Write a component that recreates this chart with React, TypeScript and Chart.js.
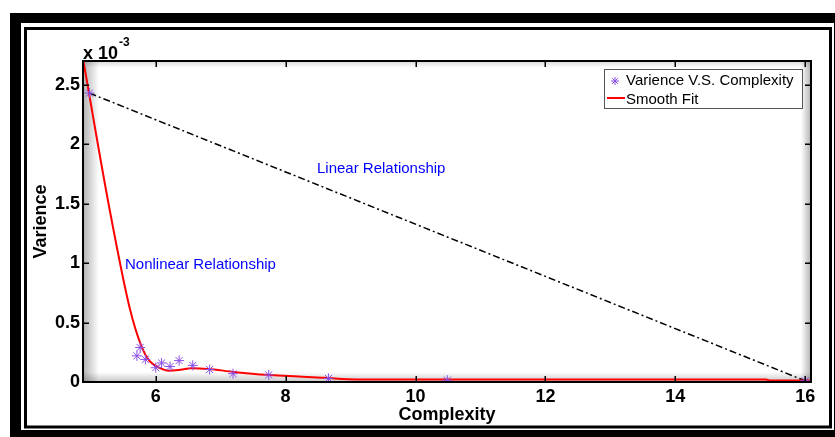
import React, { useEffect, useRef } from "react";
import { Chart, registerables } from "chart.js";

Chart.register(...registerables);

// ---- data ----
const xTicks = [6, 8, 10, 12, 14, 16];
const yTicks = [0, 0.5e-3, 1e-3, 1.5e-3, 2e-3, 2.5e-3];

const obsComplexity = [4.98, 5.71, 5.76, 5.84, 6.0, 6.09, 6.22, 6.36, 6.57, 6.83, 7.19, 7.74, 8.66, 10.49, 16.0];
const obsVarience = [2.43e-3, 0.22e-3, 0.29e-3, 0.19e-3, 0.12e-3, 0.16e-3, 0.13e-3, 0.18e-3, 0.14e-3, 0.105e-3, 0.07e-3, 0.06e-3, 0.03e-3, 0.015e-3, 0.01e-3];

const fitComplexity = [4.88, 5.28, 5.6, 5.78, 5.9, 6.05, 6.2, 6.35, 6.55, 6.8, 7.2, 7.7, 8.6, 9.1, 10, 12, 15.4, 15.45, 16.09];
const fitVarience = [2.72e-3, 1.48e-3, 0.62e-3, 0.3e-3, 0.18e-3, 0.12e-3, 0.095e-3, 0.1e-3, 0.115e-3, 0.11e-3, 0.085e-3, 0.06e-3, 0.035e-3, 0.022e-3, 0.02e-3, 0.02e-3, 0.02e-3, 0.013e-3, 0.013e-3];

const linearComplexity = [4.98, 16.0];
const linearVarience = [2.43e-3, 0.01e-3];

const seriesLabels = ["Varience V.S. Complexity", "Smooth Fit"];
const annotations = [
  { text: "Linear Relationship", x: 317, y: 169 },
  { text: "Nonlinear Relationship", x: 125, y: 265 },
];

const FONT = "'Liberation Sans', Arial, sans-serif";
const STAR_COLOR = "#8a4fe6";

const framePlugin = {
  id: "framePlugin",
  beforeDraw(chart: any) {
    const ctx = chart.ctx;
    const W = chart.width;
    const H = chart.height;
    ctx.save();
    ctx.fillStyle = "#ffffff";
    ctx.fillRect(0, 0, W, H);
    // outer thick frame
    ctx.fillStyle = "#000000";
    ctx.fillRect(10, 13, W, H);
    ctx.fillStyle = "#ffffff";
    ctx.fillRect(21, 23, 813, 407);
    // inner thin frame
    ctx.strokeStyle = "#000000";
    ctx.lineWidth = 3;
    ctx.strokeRect(25.5, 28.5, 805, 398.5);
    // shadow inside plot area
    const a = chart.chartArea;
    const g1 = ctx.createLinearGradient(a.left, 0, a.left + 16, 0);
    g1.addColorStop(0, "rgba(0,0,0,0.30)");
    g1.addColorStop(1, "rgba(0,0,0,0)");
    ctx.fillStyle = g1;
    ctx.fillRect(a.left, a.top, 16, a.bottom - a.top);
    const g2 = ctx.createLinearGradient(0, a.bottom, 0, a.bottom - 10);
    g2.addColorStop(0, "rgba(0,0,0,0.22)");
    g2.addColorStop(1, "rgba(0,0,0,0)");
    ctx.fillStyle = g2;
    ctx.fillRect(a.left, a.bottom - 10, a.right - a.left, 10);
    const g3 = ctx.createLinearGradient(a.right, 0, a.right - 10, 0);
    g3.addColorStop(0, "rgba(0,0,0,0.30)");
    g3.addColorStop(1, "rgba(0,0,0,0)");
    ctx.fillStyle = g3;
    ctx.fillRect(a.right - 10, a.top, 10, a.bottom - a.top);
    const g4 = ctx.createLinearGradient(0, a.top, 0, a.top + 7);
    g4.addColorStop(0, "rgba(0,0,0,0.15)");
    g4.addColorStop(1, "rgba(0,0,0,0)");
    ctx.fillStyle = g4;
    ctx.fillRect(a.left, a.top, a.right - a.left, 7);
    ctx.restore();
  },
  afterDatasetsDraw(chart: any) {
    const ctx = chart.ctx;
    const a = chart.chartArea;
    const xs = chart.scales.x;
    const ys = chart.scales.y;
    ctx.save();
    ctx.strokeStyle = "#000000";
    ctx.lineWidth = 2;
    ctx.strokeRect(a.left, a.top, a.right - a.left, a.bottom - a.top);
    ctx.lineWidth = 1.5;
    const tl = 6;
    ctx.beginPath();
    xs.ticks.forEach((t: any) => {
      const px = Math.round(xs.getPixelForValue(t.value)) + 0.25;
      ctx.moveTo(px, a.bottom);
      ctx.lineTo(px, a.bottom - tl);
      ctx.moveTo(px, a.top);
      ctx.lineTo(px, a.top + tl);
    });
    ys.ticks.forEach((t: any) => {
      const py = Math.round(ys.getPixelForValue(t.value)) + 0.25;
      ctx.moveTo(a.left, py);
      ctx.lineTo(a.left + tl, py);
      ctx.moveTo(a.right, py);
      ctx.lineTo(a.right - tl, py);
    });
    ctx.stroke();
    ctx.restore();
  },
  afterDraw(chart: any) {
    const ctx = chart.ctx;
    const a = chart.chartArea;
    ctx.save();
    // exponent label
    ctx.fillStyle = "#000000";
    ctx.textBaseline = "alphabetic";
    ctx.textAlign = "left";
    ctx.font = `bold 18px ${FONT}`;
    ctx.fillText("x 10", a.left, 59);
    const w = ctx.measureText("x 10").width;
    ctx.font = `bold 12px ${FONT}`;
    ctx.fillText("-3", a.left + w + 1, 46);
    // annotations
    ctx.fillStyle = "#0000ff";
    ctx.font = `15px ${FONT}`;
    ctx.textBaseline = "middle";
    annotations.forEach((an) => ctx.fillText(an.text, an.x, an.y));
    // legend
    const lx = 604.5, ly = 69.5, lw = 198, lh = 39;
    ctx.fillStyle = "#ffffff";
    ctx.fillRect(lx, ly, lw, lh);
    ctx.strokeStyle = "#555555";
    ctx.lineWidth = 1;
    ctx.strokeRect(lx, ly, lw, lh);
    const ds = chart.data.datasets;
    const sx = 615, sy = 81, r = 4;
    ctx.strokeStyle = ds[0].borderColor;
    ctx.lineWidth = 1;
    ctx.beginPath();
    for (let k = 0; k < 4; k++) {
      const ang = (k * Math.PI) / 4;
      ctx.moveTo(sx - r * Math.cos(ang), sy - r * Math.sin(ang));
      ctx.lineTo(sx + r * Math.cos(ang), sy + r * Math.sin(ang));
    }
    ctx.stroke();
    ctx.fillStyle = "#000000";
    ctx.font = `15px ${FONT}`;
    ctx.fillText(ds[0].label, 626, 81);
    ctx.strokeStyle = ds[1].borderColor;
    ctx.lineWidth = 2;
    ctx.beginPath();
    ctx.moveTo(607, 98);
    ctx.lineTo(625, 98);
    ctx.stroke();
    ctx.fillText(ds[1].label, 626, 100);
    ctx.restore();
  },
};

export default function App() {
  const ref = useRef<HTMLCanvasElement>(null);
  useEffect(() => {
    if (!ref.current) return;
    const chart = new Chart(ref.current, {
      type: "scatter",
      data: {
        datasets: [
          {
            label: seriesLabels[0],
            data: obsComplexity.map((x, i) => ({ x, y: obsVarience[i] })),
            showLine: false,
            pointStyle: "star",
            pointRadius: 5,
            borderColor: STAR_COLOR,
            backgroundColor: STAR_COLOR,
            borderWidth: 1,
          },
          {
            label: seriesLabels[1],
            data: fitComplexity.map((x, i) => ({ x, y: fitVarience[i] })),
            showLine: true,
            pointRadius: 0,
            borderColor: "#ff0000",
            borderWidth: 2,
            cubicInterpolationMode: "monotone",
          },
          {
            label: "Linear",
            data: linearComplexity.map((x, i) => ({ x, y: linearVarience[i] })),
            showLine: true,
            pointRadius: 0,
            borderColor: "#000000",
            borderWidth: 1.5,
            borderDash: [7, 3, 2, 3],
          },
        ] as any,
      },
      options: {
        animation: false,
        responsive: false,
        layout: { padding: { left: 0, top: 61, right: 24, bottom: 0 } },
        plugins: { legend: { display: false }, tooltip: { enabled: false } },
        scales: {
          x: {
            type: "linear",
            min: 4.88,
            max: 16.09,
            afterBuildTicks: (s: any) => {
              s.ticks = xTicks.map((v) => ({ value: v }));
            },
            afterFit: (s: any) => {
              s.height = 55;
            },
            grid: { display: false, drawTicks: false, tickLength: 0 },
            border: { display: false },
            ticks: {
              padding: 4,
              color: "#000000",
              font: { family: FONT, size: 18, weight: "bold" },
              maxRotation: 0,
              callback: (v: any) => String(v),
            },
            title: {
              display: true,
              text: "Complexity",
              color: "#000000",
              font: { family: FONT, size: 18, weight: "bold" },
              padding: { top: 0, bottom: 11 },
            },
          },
          y: {
            type: "linear",
            min: 0,
            max: 2.7e-3,
            afterBuildTicks: (s: any) => {
              s.ticks = yTicks.map((v) => ({ value: v }));
            },
            afterFit: (s: any) => {
              s.width = 83;
            },
            grid: { display: false, drawTicks: false, tickLength: 0 },
            border: { display: false },
            ticks: {
              padding: 3,
              color: "#000000",
              font: { family: FONT, size: 18, weight: "bold" },
              callback: (v: any) => String(Number((v * 1000).toFixed(1))),
            },
            title: {
              display: true,
              text: "Varience",
              color: "#000000",
              font: { family: FONT, size: 18, weight: "bold" },
              padding: { top: 30, bottom: 0 },
            },
          },
        },
      } as any,
      plugins: [framePlugin],
    });
    return () => chart.destroy();
  }, []);
  return (
    <div style={{ position: "absolute", left: 0, top: 0, width: 835, height: 437 }}>
      <canvas ref={ref} width={835} height={437} style={{ display: "block" }} />
    </div>
  );
}
